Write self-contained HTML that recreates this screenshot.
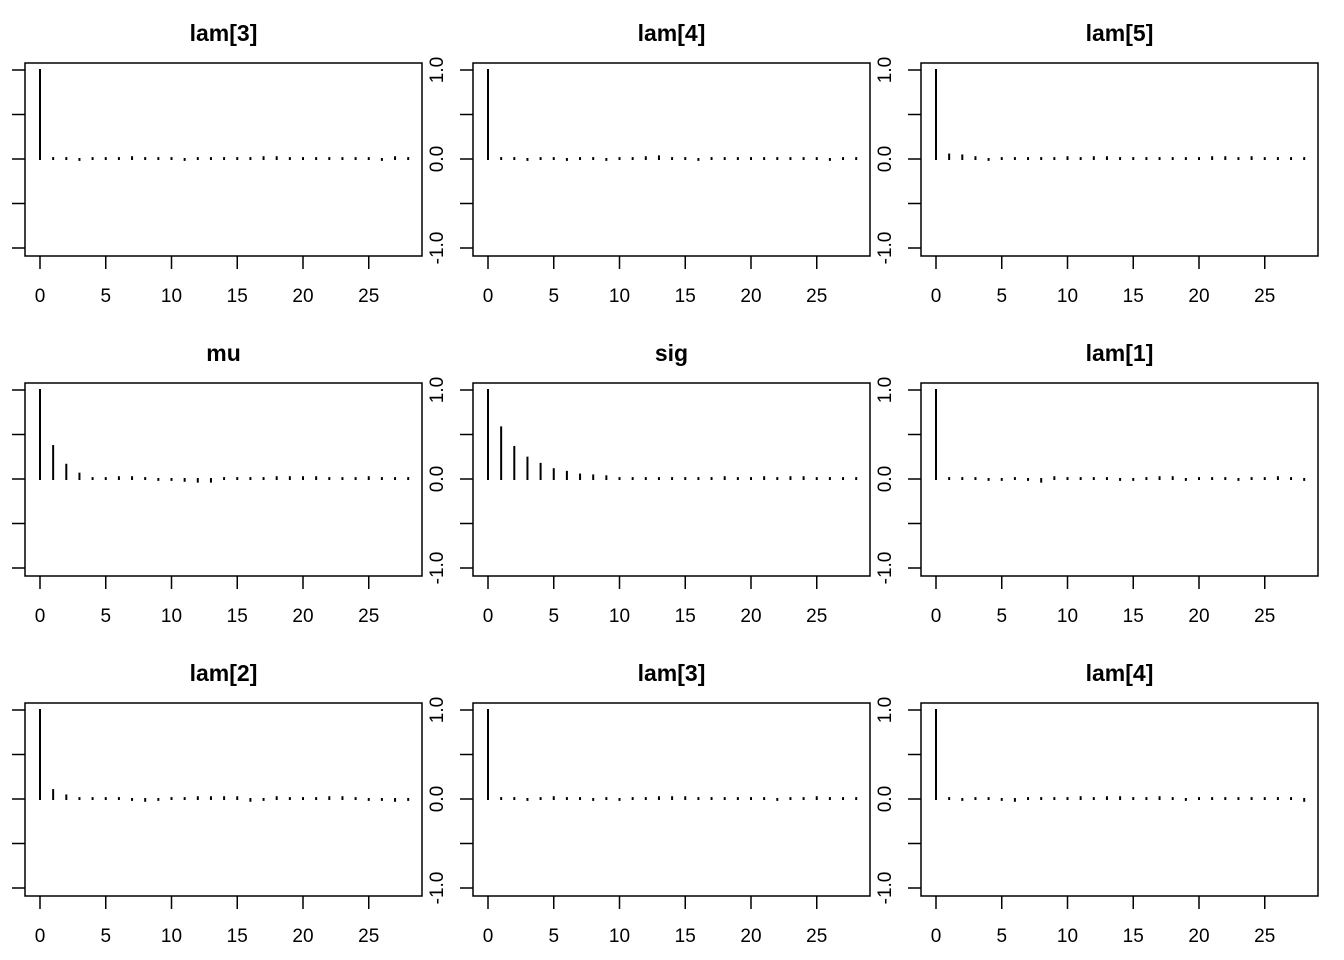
<!DOCTYPE html>
<html><head><meta charset="utf-8"><style>
html,body{margin:0;padding:0;background:#fff;}
svg{display:block;font-family:"Liberation Sans",Arial,sans-serif;}
</style></head><body>
<svg id="chart" width="1344" height="960" viewBox="0 0 1344 960"></svg>
<script>
const titles = ["lam[3]","lam[4]","lam[5]","mu","sig","lam[1]","lam[2]","lam[3]","lam[4]"];
const lags = [0,1,2,3,4,5,6,7,8,9,10,11,12,13,14,15,16,17,18,19,20,21,22,23,24,25,26,27,28];
const acfLam3a = [1,0.01,0.01,-0.01,0.01,0.01,0.01,0.02,0.01,0.01,0.01,-0.01,0.01,0.01,0.01,0.01,0.01,0.02,0.02,0.01,0.01,0.01,0.01,0.01,0.01,0.01,-0.01,0.02,0.01];
const acfLam4a = [1,0.01,0.01,-0.01,0.01,0.01,-0.01,0.01,0.01,-0.01,0.01,0.01,0.02,0.03,0.01,0.01,-0.01,0.01,0.01,0.01,0.01,0.01,0.01,0.01,0.01,0.01,-0.01,0.01,0.01];
const acfLam5 = [1,0.05,0.04,0.02,-0.01,0.01,0.01,0.01,0.01,0.01,0.02,0.01,0.02,0.02,0.01,0.01,0.01,0.01,0.01,0.01,0.01,0.02,0.02,0.01,0.02,0.01,0.01,0.01,0.01];
const acfMu = [1,0.37,0.16,0.06,0.01,0.01,0.02,0.02,0.01,-0.01,-0.01,-0.02,-0.03,-0.03,0.01,0.01,0.01,0.01,0.02,0.02,0.02,0.02,0.01,0.01,0.01,0.02,0.01,0.01,0.01];
const acfSig = [1,0.58,0.36,0.24,0.17,0.11,0.08,0.05,0.04,0.03,0.01,0.01,0.01,0.01,0.01,0.01,0.01,0.01,0.02,0.01,0.01,0.02,0.01,0.02,0.02,0.01,0.01,0.01,0.01];
const acfLam1 = [1,0.01,0.01,0.01,-0.01,-0.01,0.01,-0.01,-0.03,0.02,0.01,0.01,0.01,0.01,-0.01,-0.01,0.01,0.02,0.02,-0.01,0.01,0.01,0.01,-0.01,0.01,0.01,0.02,0.01,-0.01];
const acfLam2 = [1,0.1,0.04,0.01,0.01,0.01,0.01,-0.01,-0.02,-0.01,0.01,0.01,0.02,0.02,0.02,0.02,-0.02,-0.01,0.02,0.01,0.01,0.01,0.02,0.02,0.01,-0.01,-0.01,-0.02,-0.01];
const acfLam3b = [1,0.01,0.01,-0.01,0.01,0.02,0.01,0.01,-0.01,0.01,-0.01,0.01,0.01,0.02,0.02,0.02,0.01,0.01,0.01,0.01,0.01,0.01,-0.01,0.01,0.01,0.02,0.01,0.01,0.01];
const acfLam4b = [1,0.01,-0.01,0.01,0.01,-0.01,-0.02,0.01,0.01,0.01,0.01,0.02,0.01,0.02,0.02,0.01,0.01,0.02,0.01,-0.01,0.01,0.01,0.01,0.01,0.01,0.01,0.01,0.01,-0.02];
const series = [acfLam3a,acfLam4a,acfLam5,acfMu,acfSig,acfLam1,acfLam2,acfLam3b,acfLam4b];
const xTicks = [0,5,10,15,20,25];
const yTicks = [-1,-0.5,0,0.5,1];
const yLabels = [-1,0,1];

const NS="http://www.w3.org/2000/svg";
const svg=document.getElementById('chart');
function mk(tag,attrs,parent){const e=document.createElementNS(NS,tag);for(const k in attrs)e.setAttribute(k,attrs[k]);parent.appendChild(e);return e;}

series.forEach((vals,i)=>{
  const col=i%3,row=Math.floor(i/3);
  const ox=col*448,oy=row*320;
  const L=25+ox,R=422+ox,T=63+oy,B=256+oy;
  const xs=v=>40+ox+v*13.15;
  const ys=v=>159+oy-v*89;
  const g=mk('g',{},svg);
  
  
  const t=mk('text',{x:(L+R)/2,y:41+oy,'text-anchor':'middle','font-size':'23','font-weight':'bold'},g);
  t.textContent=titles[i];
  
  
  const box=mk('rect',{x:L,y:T,width:R-L,height:B-T,fill:'none',stroke:'#000','stroke-width':'1.5'},g);
  
  
  yTicks.forEach(v=>{
    const tk=mk('line',{x1:12+ox,x2:L,y1:ys(v),y2:ys(v),stroke:'#000','stroke-width':'1.5'},g);
    
    
  });
  if(col<2){
    yLabels.forEach(v=>{
      const y=ys(v);
      const tx=mk('text',{x:0,y:0,'text-anchor':'middle','font-size':'19',transform:`translate(${443+ox},${y}) rotate(-90)`},g);
      tx.textContent=v.toFixed(1);
      
      
    });
  }
  xTicks.forEach(v=>{
    const tk=mk('line',{x1:xs(v),x2:xs(v),y1:B,y2:B+13,stroke:'#000','stroke-width':'1.5'},g);
    
    
    const tx=mk('text',{x:xs(v),y:302+oy,'text-anchor':'middle','font-size':'19'},g);
    tx.textContent=v;
    
    
  });
  vals.forEach((v,k)=>{
    const b=mk('line',{x1:xs(lags[k]),x2:xs(lags[k]),y1:ys(0),y2:ys(v),stroke:'#000','stroke-width':'2','stroke-linecap':'square'},g);
    
    
  });
});
</script>
</body></html>
